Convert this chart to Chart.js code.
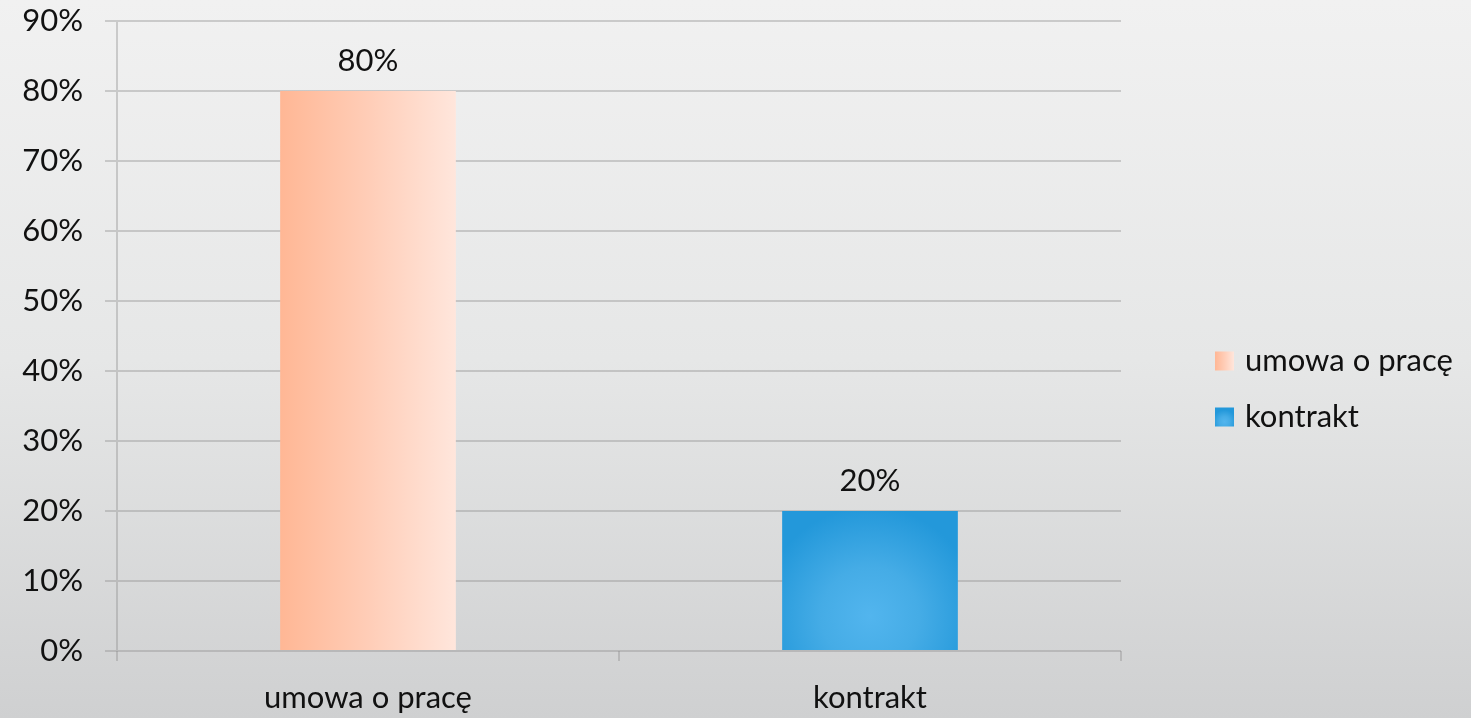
<!DOCTYPE html>
<html>
<head>
<meta charset="utf-8">
<script src="https://cdn.jsdelivr.net/npm/chart.js@4.4.1/dist/chart.umd.min.js"></script>
<style>
html,body{margin:0;padding:0;width:1471px;height:718px;overflow:hidden;}
body{background:linear-gradient(180deg,#f1f1f1 0%,#e6e7e7 50%,#cfd0d1 100%);}
#wrap{position:absolute;left:0;top:0;width:1471px;height:718px;}
</style>
</head>
<body>
<div id="wrap"><canvas id="c" width="1471" height="718"></canvas></div>
<script>
const categories = ['umowa o pracę', 'kontrakt'];
const seriesNames = ['umowa o pracę', 'kontrakt'];
const umowaValues = [80, null];
const kontraktValues = [null, 20];
const yTicks = [0, 10, 20, 30, 40, 50, 60, 70, 80, 90];

const FONT = 'Lato';
const FS = 31;
const BAR_FRAC = 0.35;

function barBounds(chart, idx) {
  const x = chart.scales.x;
  const cx = x.getPixelForValue(idx);
  const w = (x.width / categories.length) * BAR_FRAC;
  return {cx, left: cx - w / 2, right: cx + w / 2, w};
}
function orangeFill(ctx2d, l, r) {
  const g = ctx2d.createLinearGradient(l, 0, r, 0);
  g.addColorStop(0, '#FFB795');
  g.addColorStop(0.5, '#FFCDB7');
  g.addColorStop(1, '#FFE6DC');
  return g;
}
function blueFill(ctx2d, cx, bottom, w, h) {
  const g = ctx2d.createRadialGradient(cx, bottom - h * 0.25, 0, cx, bottom - h * 0.25, Math.max(w, h) * 0.62);
  g.addColorStop(0, '#52B5EE');
  g.addColorStop(0.45, '#45ACE6');
  g.addColorStop(1, '#2398DA');
  return g;
}

const dataLabels = {
  id: 'dataLabels',
  afterDatasetsDraw(chart) {
    const c = chart.ctx;
    c.save();
    c.font = FS + 'px ' + FONT;
    c.fillStyle = '#111';
    c.textAlign = 'center';
    c.textBaseline = 'middle';
    chart.data.datasets.forEach((ds, di) => {
      const meta = chart.getDatasetMeta(di);
      meta.data.forEach((el, i) => {
        const v = ds.data[i];
        if (v === null || v === undefined) return;
        c.fillText(v + '%', el.x, el.y - 30);
      });
    });
    c.restore();
  }
};

const customLegend = {
  id: 'customLegend',
  afterDraw(chart) {
    const c = chart.ctx;
    const a = chart.chartArea;
    const x0 = a.right + 94;
    const rows = [361, 417];
    c.save();
    c.font = FS + 'px ' + FONT;
    c.textBaseline = 'middle';
    c.textAlign = 'left';
    seriesNames.forEach((name, i) => {
      const y = rows[i];
      const s = 19;
      if (i === 0) c.fillStyle = orangeFill(c, x0, x0 + s);
      else c.fillStyle = blueFill(c, x0 + s / 2, y + s / 2, s, s);
      c.fillRect(x0, y - s / 2, s, s);
      c.fillStyle = '#111';
      c.fillText(name, x0 + 30, y);
    });
    c.restore();
  }
};

function build() {
  const ctx = document.getElementById('c').getContext('2d');
  new Chart(ctx, {
    type: 'bar',
    data: {
      labels: categories,
      datasets: [
        {
          label: seriesNames[0],
          data: umowaValues,
          backgroundColor: (context) => {
            const ch = context.chart;
            if (!ch.chartArea) return '#FFCDB7';
            const b = barBounds(ch, context.dataIndex);
            return orangeFill(ch.ctx, b.left, b.right);
          }
        },
        {
          label: seriesNames[1],
          data: kontraktValues,
          backgroundColor: (context) => {
            const ch = context.chart;
            if (!ch.chartArea) return '#2F9FDF';
            const b = barBounds(ch, context.dataIndex);
            const y = ch.scales.y;
            const v = kontraktValues[context.dataIndex] || 0;
            const bottom = y.getPixelForValue(0);
            const top = y.getPixelForValue(v);
            return blueFill(ch.ctx, b.cx, bottom, b.w, bottom - top);
          }
        }
      ]
    },
    options: {
      responsive: false,
      animation: false,
      devicePixelRatio: 1,
      skipNull: true,
      datasets: { bar: { categoryPercentage: 1, barPercentage: BAR_FRAC, borderWidth: 0 } },
      layout: { padding: { top: 21, right: 350, left: 0, bottom: 0 } },
      plugins: { legend: { display: false }, tooltip: { enabled: false } },
      scales: {
        x: {
          offset: true,
          grid: { offset: true, drawOnChartArea: false, drawTicks: true, tickLength: 10, color: 'rgba(140,140,140,0.38)', lineWidth: 2 },
          border: { display: false },
          ticks: { color: '#111', font: { family: FONT, size: FS }, padding: 18, maxRotation: 0 },
          afterFit(scale) { scale.height = 67; scale.paddingLeft = 0; scale.paddingRight = 0; }
        },
        y: {
          min: 0, max: 90,
          afterBuildTicks(scale) { scale.ticks = yTicks.map(v => ({ value: v })); },
          grid: { drawTicks: true, tickLength: 12, color: 'rgba(140,140,140,0.38)', lineWidth: 2 },
          border: { display: true, color: 'rgba(140,140,140,0.38)', width: 2 },
          ticks: { color: '#111', font: { family: FONT, size: FS }, padding: 22, callback: v => v + '%' },
          afterFit(scale) { scale.width = 117; scale.paddingTop = 0; scale.paddingBottom = 0; }
        }
      }
    },
    plugins: [dataLabels, customLegend]
  });
}
if (document.fonts && document.fonts.load) {
  document.fonts.load(FS + 'px ' + FONT).then(build, build);
} else build();
</script>
</body>
</html>
